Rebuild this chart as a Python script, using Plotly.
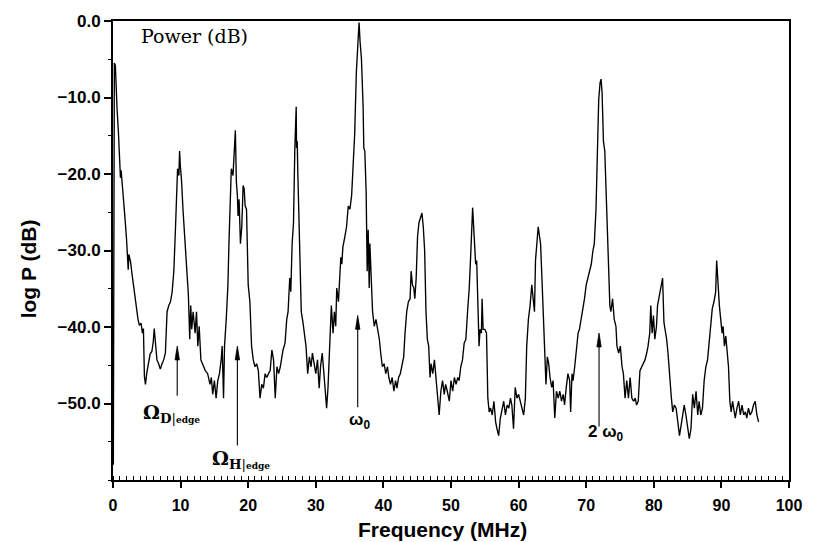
import plotly.graph_objects as go

# ---- data (frequency in MHz, power in dB) ----
freq_mhz = [
    0.05, 0.12, 0.2, 0.35, 0.45, 0.6, 0.8, 1.0, 1.1, 1.2, 1.35, 1.5, 1.75, 2.0, 2.15, 2.25, 2.35, 2.6, 2.8,
    3.0, 3.25, 3.5, 3.7, 3.9, 4.15, 4.35, 4.5, 4.65, 4.8, 5.0, 5.2, 5.5, 5.75, 5.95, 6.1, 6.3, 6.5, 6.75,
    7.0, 7.25, 7.5, 7.75, 7.9, 8.0, 8.25, 8.5, 8.75, 9.0, 9.25, 9.4, 9.55, 9.75, 9.85, 9.95, 10.15, 10.35,
    10.65, 10.85, 11.15, 11.35, 11.5, 11.65, 11.85, 12.15, 12.35, 12.55, 12.75, 13.0, 13.25, 13.65, 14.0,
    14.35, 14.55, 14.75, 15.0, 15.25, 15.5, 15.75, 16.0, 16.15, 16.35, 16.5, 16.75, 17.0, 17.15, 17.35,
    17.5, 17.75, 17.95, 18.1, 18.25, 18.4, 18.5, 18.65, 18.85, 19.05, 19.25, 19.4, 19.55, 19.75, 20.0,
    20.25, 20.5, 20.75, 21.0, 21.25, 21.5, 21.75, 22.0, 22.25, 22.5, 22.75, 23.0, 23.25, 23.5, 23.75,
    24.0, 24.25, 24.5, 24.75, 25.15, 25.45, 25.7, 25.9, 26.15, 26.3, 26.5, 26.7, 26.9, 27.0, 27.1, 27.15,
    27.25, 27.35, 27.6, 27.85, 28.1, 28.3, 28.55, 28.8, 29.05, 29.3, 29.5, 29.75, 30.0, 30.25, 30.5,
    30.7, 30.95, 31.2, 31.45, 31.6, 31.8, 32.05, 32.3, 32.55, 32.75, 32.95, 33.1, 33.35, 33.5, 33.7,
    33.85, 34.0, 34.3, 34.55, 34.8, 35.05, 35.3, 35.5, 35.75, 36.0, 36.15, 36.3, 36.4, 36.55, 36.75,
    37.0, 37.1, 37.25, 37.45, 37.6, 37.75, 37.9, 38.0, 38.2, 38.4, 38.65, 38.9, 39.15, 39.4, 39.6,
    39.85, 40.1, 40.35, 40.6, 40.8, 41.05, 41.3, 41.55, 41.8, 42.0, 42.25, 42.5, 42.75, 43.0, 43.2,
    43.45, 43.7, 43.95, 44.1, 44.3, 44.5, 44.65, 44.85, 45.05, 45.25, 45.55, 45.7, 45.9, 46.1, 46.3,
    46.5, 46.7, 46.9, 47.05, 47.3, 47.55, 47.8, 48.0, 48.25, 48.5, 48.75, 49.0, 49.2, 49.45, 49.75,
    50.0, 50.25, 50.5, 50.75, 51.0, 51.2, 51.45, 51.7, 51.95, 52.2, 52.45, 52.7, 52.9, 53.05, 53.2,
    53.35, 53.5, 53.65, 53.8, 54.0, 54.15, 54.3, 54.5, 54.6, 54.75, 55.0, 55.25, 55.45, 55.65, 55.85,
    56.1, 56.35, 56.6, 56.8, 57.05, 57.3, 57.55, 57.8, 58.05, 58.3, 58.55, 58.8, 59.0, 59.25, 59.5,
    59.75, 60.0, 60.25, 60.5, 60.75, 61.0, 61.2, 61.45, 61.7, 61.95, 62.2, 62.35, 62.5, 62.7, 62.9,
    63.1, 63.25, 63.45, 63.65, 63.85, 64.05, 64.25, 64.45, 64.65, 64.9, 65.1, 65.35, 65.6, 65.85, 66.1,
    66.35, 66.6, 66.8, 67.05, 67.3, 67.55, 67.7, 67.9, 68.05, 68.3, 68.55, 68.8, 69.0, 69.25, 69.5,
    69.75, 70.0, 70.25, 70.5, 70.75, 71.0, 71.2, 71.45, 71.7, 71.85, 72.05, 72.2, 72.35, 72.55, 72.75,
    72.95, 73.2, 73.3, 73.5, 73.65, 73.9, 74.15, 74.4, 74.55, 74.8, 75.05, 75.3, 75.5, 75.75, 76.0,
    76.25, 76.5, 76.75, 77.0, 77.25, 77.45, 77.7, 77.95, 78.2, 78.45, 78.7, 78.95, 79.15, 79.4, 79.55,
    79.75, 79.95, 80.15, 80.4, 80.55, 80.75, 80.9, 81.1, 81.3, 81.5, 81.7, 81.9, 82.1, 82.35, 82.6,
    82.8, 83.05, 83.3, 83.55, 83.8, 84.05, 84.3, 84.5, 84.75, 85.0, 85.25, 85.5, 85.75, 86.0, 86.25,
    86.5, 86.7, 86.95, 87.2, 87.45, 87.7, 87.95, 88.2, 88.4, 88.65, 88.9, 89.15, 89.3, 89.5, 89.7,
    89.9, 90.1, 90.25, 90.45, 90.65, 90.85, 91.05, 91.25, 91.45, 91.65, 91.85, 92.05, 92.3, 92.55,
    92.8, 93.05, 93.3, 93.55, 93.75, 94.0, 94.25, 94.5, 94.75, 95.0, 95.25, 95.5,
]

power_db = [
    -58, -8, -5.5, -5.8, -8.5, -11.5, -14.5, -17.5, -20.5, -19.5, -21.5, -22.5, -25.5, -28.5, -30.5, -32.5, -30.5, -31.5, -33,
    -34.5, -36, -37.5, -39, -39.8, -39.5, -40.8, -40.2, -46.5, -47.5, -46, -44.8, -43.5, -43.2, -42, -40.2, -42.5, -44.3, -44.8,
    -45.5, -44.8, -44.3, -43.4, -40.8, -38, -37.2, -36.7, -35.4, -32.7, -26.9, -21, -19.3, -20.2, -17.0, -18.8, -21, -24.6,
    -29.1, -32.7, -35.8, -41.6, -37.2, -40.3, -38, -40.8, -38, -42.5, -39.9, -44.3, -44.8, -45.7, -46.1,
    -47.5, -46.6, -48.8, -47.0, -49.3, -47.0, -46.1, -44.3, -42.5, -49.3, -42.5, -39, -34.5, -29.1, -22.8,
    -19.3, -20.2, -15.7, -14.3, -21, -22.8, -25.5, -23.3, -29.1, -26.9, -21.5, -21.9, -24.2, -24.6, -34.5,
    -36.7, -42.5, -44.3, -45.2, -44.8, -45.7, -49.3, -47.5, -48, -46.1, -46.6, -46.1, -45.7, -43, -44.3,
    -49.3, -45.2, -46.1, -45.2, -43, -42.1, -39, -38, -33.6, -35.4, -29.1, -26.4, -16.6, -14.8, -11.2, -16.6,
    -15.7, -20.2, -29.1, -38, -39.4, -40.8, -42.5, -46.1, -43.9, -45.2, -43.4, -44.8, -46.1, -44.3, -48,
    -45.2, -43.4, -46.1, -48.8, -50.6, -48, -42.5, -37.2, -40.8, -38, -39.9, -34.9, -36.7, -33.6, -30.9,
    -31.8, -29.6, -28.2, -26.9, -24.2, -24.6, -22.8, -19.3, -14.8, -6.7, -3.6, -2.2, -0.2, -2.7, -4.9,
    -11.2, -16.6, -17.0, -22.4, -32.7, -27.3, -34.9, -29.1, -33.6, -38, -39.9, -39, -40.3, -41.6, -43.4,
    -45.2, -44.8, -46.1, -45.2, -46.6, -47.5, -46.6, -48.4, -47.0, -48, -46.6, -46.1, -44.8, -43.9, -40.8,
    -38, -36.7, -36.3, -32.7, -34.5, -34.9, -36.3, -33.6, -28.2, -26.4, -25.5, -25.1, -26.9, -30, -38,
    -41.6, -42.5, -46.6, -44.8, -46.1, -44.3, -47.0, -49.3, -51.5, -48.4, -47.0, -48.8, -47.5, -48.4, -49.7,
    -47.0, -48.4, -46.6, -47.5, -46.6, -47.0, -45.2, -44.3, -42.1, -41.6, -38, -34.9, -30.9, -28.2, -24.4,
    -26.9, -29.1, -31.8, -31.3, -38, -42.5, -40.3, -40.8, -36.3, -40.3, -40.3, -40.8, -49.3, -51.1, -50.6,
    -51.5, -49.7, -52.4, -53.3, -54.2, -51.9, -50.6, -49.7, -51.5, -50.2, -50.6, -49.3, -50.2, -53.3, -47.9,
    -49.3, -48.8, -49.7, -50.6, -51.5, -49.3, -42.5, -39, -37.2, -34.5, -36.3, -38, -31.3, -29.1, -26.9,
    -28.2, -29.1, -33.6, -38, -42.5, -47.5, -43.9, -44.8, -46.6, -47.9, -47.0, -51.9, -48.4, -49.3, -48.4,
    -49.7, -48.8, -50.2, -47.9, -46.1, -47.0, -51.1, -46.1, -47.0, -45.2, -42.5, -40.8, -40.3, -39, -38,
    -36.3, -34.5, -33.6, -32.7, -31.8, -30, -29.1, -24.6, -15.7, -10.3, -8.1, -7.6, -9.4, -15.7, -17.0,
    -22.8, -29.1, -30.9, -37.2, -38, -36.3, -39, -39.9, -42.5, -43.4, -42.5, -45.2, -46.1, -49.3, -47.0,
    -49.3, -46.6, -49.3, -49.7, -49.3, -50.2, -49.7, -45.7, -45.2, -44.8, -44.3, -43.4, -42.5, -40.8, -37.2,
    -40.8, -38.5, -41.6, -39.9, -37.2, -36.3, -35.4, -34.9, -33.6, -39.4, -40.3, -41.6, -43.4, -47.0, -49.3,
    -51.1, -50.2, -50.6, -52.4, -54.2, -52.8, -51.5, -50.2, -51.5, -53.3, -54.6, -53.3, -48.8, -50.6, -48.4,
    -51.5, -49.7, -51.5, -50.6, -47.0, -45.2, -44.3, -41.6, -40.3, -37.6, -36.7, -35.4, -31.3, -34.5, -37.2,
    -39, -40.8, -39.9, -42.5, -41.2, -43, -45.2, -49.7, -51.1, -49.7, -50.6, -51.9, -50.6, -49.7,
    -51.5, -50.2, -51.5, -51.1, -51.9, -50.6, -51.5, -51.1, -50.2, -49.7, -51.5, -52.4,
]

x_tick_vals = [0, 10, 20, 30, 40, 50, 60, 70, 80, 90, 100]
y_tick_vals = [0, -10, -20, -30, -40, -50]
y_tick_text = ["0.0", "\u221210.0", "\u221220.0", "\u221230.0", "\u221240.0", "\u221250.0"]

# marked frequencies: labels, arrow positions and label positions
marker_labels = [
    "<b>\u03a9</b><sub><b>D</b>|<span style='font-size:9px'><b>edge</b></span></sub>",
    "<b>\u03a9</b><sub><b>H</b>|<span style='font-size:9px'><b>edge</b></span></sub>",
    "<b>\u03c9<sub>0</sub></b>",
    "<b>2 \u03c9<sub>0</sub></b>",
]
marker_arrow_x = [9.5, 18.4, 36.2, 71.9]
marker_tail_y = [-49.0, -55.5, -50.5, -53.0]
marker_head_y = [-42.5, -42.5, -38.5, -40.8]
marker_label_x = [8.6, 18.9, 36.4, 73.0]
marker_label_y = [-51.3, -57.3, -52.3, -53.8]
marker_label_font = ["DejaVu Serif", "DejaVu Serif", "Liberation Sans", "Liberation Sans"]
marker_label_size = [19, 19, 17, 17]

# arrowhead half-width (MHz) and length (dB): style constants
HEAD_HALF_W = 0.32
HEAD_LEN = 1.8

fig = go.Figure()
fig.add_trace(go.Scatter(
    x=freq_mhz, y=power_db, mode="lines",
    line=dict(color="black", width=1.35),
    showlegend=False, hoverinfo="skip",
))

# arrow shafts
shaft_x, shaft_y = [], []
for ax_, ty, hy in zip(marker_arrow_x, marker_tail_y, marker_head_y):
    shaft_x += [ax_, ax_, None]
    shaft_y += [ty, hy - HEAD_LEN * 0.5, None]
fig.add_trace(go.Scatter(
    x=shaft_x, y=shaft_y, mode="lines",
    line=dict(color="black", width=1.1),
    showlegend=False, hoverinfo="skip",
))

# arrow heads (narrow filled triangles)
head_x, head_y = [], []
for ax_, hy in zip(marker_arrow_x, marker_head_y):
    head_x += [ax_ - HEAD_HALF_W, ax_, ax_ + HEAD_HALF_W, ax_ - HEAD_HALF_W, None]
    head_y += [hy - HEAD_LEN, hy, hy - HEAD_LEN, hy - HEAD_LEN, None]
fig.add_trace(go.Scatter(
    x=head_x, y=head_y, mode="lines", fill="toself", fillcolor="black",
    line=dict(color="black", width=0.8),
    showlegend=False, hoverinfo="skip",
))

annotations = []
for lab, lx, ly, fnt, fs in zip(marker_labels, marker_label_x, marker_label_y,
                                marker_label_font, marker_label_size):
    annotations.append(dict(
        x=lx, y=ly, xref="x", yref="y", text=lab, showarrow=False,
        font=dict(family=fnt, size=fs, color="black"),
        xanchor="center", yanchor="middle",
    ))

annotations.append(dict(
    x=3.8, y=-1.9, xref="x", yref="y", text="Power (dB)", showarrow=False,
    font=dict(family="DejaVu Serif", size=19, color="black"),
    xanchor="left", yanchor="middle",
))
annotations.append(dict(
    x=0.488, y=-0.108, xref="paper", yref="paper", text="<b>Frequency (MHz)</b>",
    showarrow=False, font=dict(family="Liberation Sans", size=21, color="black"),
    xanchor="center", yanchor="middle",
))
annotations.append(dict(
    x=-0.125, y=0.46, xref="paper", yref="paper", text="<b>log P (dB)</b>",
    showarrow=False, textangle=-90,
    font=dict(family="Liberation Sans", size=21, color="black"),
    xanchor="center", yanchor="middle",
))

fig.update_layout(
    width=814, height=542,
    margin=dict(l=113, r=17, t=17, b=62),
    paper_bgcolor="white", plot_bgcolor="white",
    font=dict(family="Liberation Sans", color="black"),
    annotations=annotations,
    showlegend=False,
)
fig.update_xaxes(
    range=[0, 100], tickvals=x_tick_vals,
    ticks="outside", ticklen=6, tickwidth=1.5, tickcolor="black",
    ticklabelstandoff=4,
    minor=dict(dtick=1, ticks="inside", ticklen=4, tickwidth=1, tickcolor="black", showgrid=False),
    showline=True, linewidth=2, linecolor="black", mirror=True,
    showgrid=False, zeroline=False,
    tickfont=dict(family="Liberation Sans", size=16, weight="bold", color="black"),
)
fig.update_yaxes(
    range=[-60, 0], tickvals=y_tick_vals, ticktext=y_tick_text,
    ticks="outside", ticklen=7, tickwidth=1.5, tickcolor="black",
    minor=dict(dtick=5, ticks="outside", ticklen=3, tickwidth=1, tickcolor="black", showgrid=False),
    showline=True, linewidth=2, linecolor="black", mirror=True,
    showgrid=False, zeroline=False,
    tickfont=dict(family="Liberation Sans", size=17, weight="bold", color="black"),
)

fig.write_html("out.html")
